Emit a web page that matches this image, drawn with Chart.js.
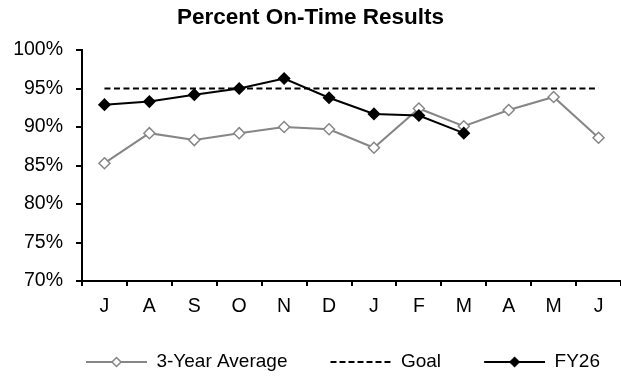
<!DOCTYPE html>
<html>
<head>
<meta charset="utf-8">
<script src="https://cdn.jsdelivr.net/npm/chart.js@4"></script>
<style>
html, body { margin: 0; padding: 0; background: #fff; overflow: hidden; }
#wrap { width: 621px; height: 376px; }
</style>
</head>
<body>
<div id="wrap"><canvas id="chart_1"></canvas></div>
<script>
const months = ['J', 'A', 'S', 'O', 'N', 'D', 'J', 'F', 'M', 'A', 'M', 'J'];
const threeYearAvg = [85.3, 89.2, 88.3, 89.2, 90.0, 89.7, 87.3, 92.4, 90.1, 92.2, 93.9, 88.6];
const goal = [95, 95, 95, 95, 95, 95, 95, 95, 95, 95, 95, 95];
const fy26 = [92.9, 93.3, 94.2, 95.0, 96.3, 93.8, 91.7, 91.5, 89.2, null, null, null];

const FONT = "'Liberation Sans', Arial, sans-serif";
const gray = '#868686';

// little line + diamond pictures for the legend (blank bit on the left = gap between items)
const GAP = 22;
function legendIcon(color, dash, fill) {
    const c = document.createElement('canvas');
    c.width = GAP + 61;
    c.height = 14;
    const ctx = c.getContext('2d');
    ctx.strokeStyle = color;
    ctx.lineWidth = 2;
    ctx.setLineDash(dash);
    ctx.beginPath();
    ctx.moveTo(GAP, 7);
    ctx.lineTo(GAP + 61, 7);
    ctx.stroke();
    if (fill) {
        const cx = GAP + 30.5;
        ctx.setLineDash([]);
        ctx.lineWidth = 1.5;
        ctx.beginPath();
        ctx.moveTo(cx, 2.5);
        ctx.lineTo(cx + 4.5, 7);
        ctx.lineTo(cx, 11.5);
        ctx.lineTo(cx - 4.5, 7);
        ctx.closePath();
        ctx.fillStyle = fill;
        ctx.fill();
        ctx.stroke();
    }
    return c;
}
const icons = [legendIcon(gray, [], '#fff'), legendIcon('#000', [6, 3]), legendIcon('#000', [], '#000')];

new Chart(document.getElementById('chart_1'), {
    type: 'line',
    data: {
        labels: months,
        datasets: [{
            label: '3-Year Average',
            data: threeYearAvg,
            borderColor: gray,
            borderWidth: 2,
            pointStyle: 'rectRot',
            pointRadius: 5.5,
            pointBorderWidth: 1.5,
            pointBackgroundColor: '#fff',
            pointBorderColor: gray,
            order: 2
        }, {
            label: 'Goal',
            data: goal,
            borderColor: '#000',
            borderWidth: 2,
            borderDash: [6, 3.5],
            pointRadius: 0,
            order: 1
        }, {
            label: 'FY26',
            data: fy26,
            borderColor: '#000',
            borderWidth: 2,
            pointStyle: 'rectRot',
            pointRadius: 5.5,
            pointBorderWidth: 1.5,
            pointBackgroundColor: '#000',
            pointBorderColor: '#000',
            order: 0
        }]
    },
    options: {
        responsive: true,
        maintainAspectRatio: false,
        animation: false,
        layout: { autoPadding: false, padding: { left: 0, right: 0, top: 0, bottom: -5.5 } },
        plugins: {
            tooltip: { enabled: false },
            title: {
                display: true,
                text: 'Percent On-Time Results',
                color: '#000',
                font: { family: FONT, size: 22.5, weight: 'bold' },
                padding: { top: 4.5, bottom: 18.5 }
            },
            legend: {
                position: 'bottom',
                align: 'end',
                labels: {
                    color: '#000',
                    font: { family: FONT, size: 19 },
                    usePointStyle: true,
                    pointStyleWidth: GAP + 61,
                    padding: 21,
                    sort: (a, b) => a.datasetIndex - b.datasetIndex,
                    generateLabels: chart => Chart.defaults.plugins.legend.labels.generateLabels(chart)
                        .map(item => ({ ...item, pointStyle: icons[item.datasetIndex] }))
                }
            }
        },
        scales: {
            x: {
                offset: true,
                grid: { offset: true, drawOnChartArea: false, tickLength: 5, tickColor: '#000', lineWidth: 2 },
                border: { color: '#000', width: 2 },
                ticks: { color: '#000', font: { family: FONT, size: 19.5 }, padding: 9, maxRotation: 0, autoSkip: false },
                afterFit: scale => {
                    scale.height = 50.5;
                    scale.paddingLeft = 0;
                    scale.paddingRight = 0;
                }
            },
            y: {
                min: 70,
                max: 100,
                grid: { drawOnChartArea: false, tickLength: 6, tickColor: '#000', lineWidth: 2 },
                border: { color: '#000', width: 2 },
                ticks: {
                    stepSize: 2.5,
                    color: '#000',
                    padding: 13,
                    font: { family: FONT, size: 19.5 },
                    callback: v => (v % 5 === 0 ? v + '%' : '')
                },
                afterFit: scale => { scale.width = 82; }
            }
        }
    }
});
</script>
</body>
</html>
